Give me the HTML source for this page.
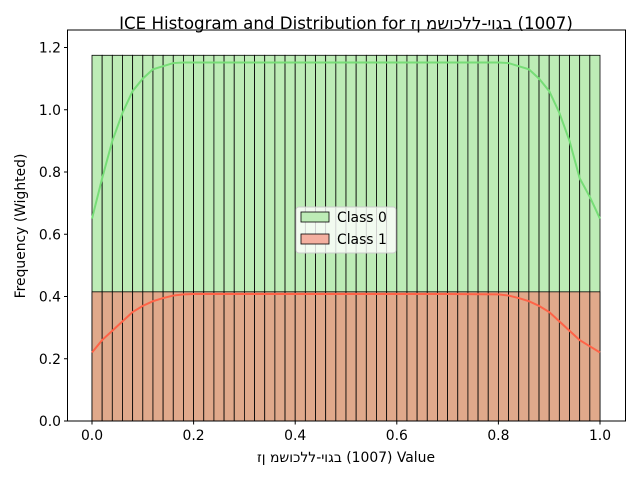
<!DOCTYPE html>
<html><head><meta charset="utf-8"><style>
body{margin:0;background:#fff;}
svg text{font-family:"DejaVu Sans","Liberation Sans",sans-serif;fill:#000;}
.ltr{direction:ltr;unicode-bidi:bidi-override;}
</style></head><body>
<svg id="chart" width="640" height="480" viewBox="0 0 640 480" xmlns="http://www.w3.org/2000/svg">
<rect width="640" height="480" fill="#fff"/>
<g id="bars"></g>
<g id="lines"></g>
<g id="axes"></g>
<text class="ltr" x="346" y="29" font-size="16.67" text-anchor="middle">ICE Histogram and Distribution for זן משוכלל-יוגב (1007)</text>
<text class="ltr" x="346" y="462" font-size="13.9" text-anchor="middle">זן משוכלל-יוגב (1007) Value</text>
<text transform="translate(25,226) rotate(-90)" font-size="13.9" text-anchor="middle">Frequency (Wighted)</text>
<g>
<rect x="296" y="207" width="100" height="46" rx="3" fill="#fff" fill-opacity="0.8" stroke="#ccc"/>
<rect x="301" y="212" width="28" height="10" fill="#bdecb6" stroke="#000" stroke-width="0.8"/>
<text x="337" y="222" font-size="13.9">Class 0</text>
<rect x="301" y="234" width="28" height="10" fill="#f4b0a0" stroke="#000" stroke-width="0.8"/>
<text x="337" y="244" font-size="13.9">Class 1</text>
</g>
</svg>
<script>
const binCount = 50;
const class0Heights = Array(50).fill(1.175);
const class1Heights = Array(50).fill(0.415);
const kdeX = [0,0.02,0.04,0.06,0.08,0.1,0.12,0.14,0.16,0.18,0.2,0.3,0.5,0.7,0.8,0.82,0.84,0.86,0.88,0.9,0.92,0.94,0.96,0.98,1.0];
const kde0 = [0.65,0.78,0.9,0.99,1.06,1.1,1.13,1.14,1.15,1.152,1.152,1.152,1.152,1.152,1.152,1.15,1.14,1.13,1.1,1.06,0.99,0.9,0.78,0.72,0.65];
const kde1 = [0.22,0.26,0.29,0.32,0.35,0.37,0.385,0.395,0.403,0.407,0.408,0.408,0.408,0.408,0.407,0.403,0.395,0.385,0.37,0.35,0.32,0.29,0.26,0.24,0.22];
const xTicks = [0,0.2,0.4,0.6,0.8,1.0];
const yTicks = [0,0.2,0.4,0.6,0.8,1.0,1.2];
const NS="http://www.w3.org/2000/svg";
const X = v => 92 + v*508;
const Y = v => 421 - v*(421-47.5)/1.2;
function mk(t,a,p){const e=document.createElementNS(NS,t);for(const k in a)e.setAttribute(k,a[k]);p.appendChild(e);return e;}
const bars=document.getElementById('bars');
const w=1/binCount;
for(let i=0;i<binCount;i++){
  const b=mk('rect',{x:X(i*w),y:Y(class0Heights[i]),width:X(w)-X(0),height:Y(0)-Y(class0Heights[i]),fill:'#bdecb6',stroke:'#000','stroke-width':0.8},bars);
  
  
}
for(let i=0;i<binCount;i++){
  const b=mk('rect',{x:X(i*w),y:Y(class1Heights[i]),width:X(w)-X(0),height:Y(0)-Y(class1Heights[i]),fill:'#e0a98b',stroke:'#000','stroke-width':0.8},bars);
  
  
}
const lines=document.getElementById('lines');
function path(ys){return kdeX.map((x,i)=>(i?'L':'M')+X(x)+','+Y(ys[i])).join(' ');}
const l0=mk('path',{d:path(kde0),fill:'none',stroke:'#77dd77','stroke-width':2},lines);


const l1=mk('path',{d:path(kde1),fill:'none',stroke:'#ff6347','stroke-width':2},lines);


const axes=document.getElementById('axes');
const frame=mk('rect',{x:67.5,y:30,width:558,height:391,fill:'none',stroke:'#000','stroke-width':1},axes);


xTicks.forEach(t=>{
  mk('line',{x1:X(t),x2:X(t),y1:421,y2:424.5,stroke:'#000'},axes);
  const tx=mk('text',{x:X(t),y:440,'font-size':13.9,'text-anchor':'middle'},axes);
  tx.textContent=t.toFixed(1);
  
  
});
yTicks.forEach(t=>{
  mk('line',{x1:64,x2:67.5,y1:Y(t),y2:Y(t),stroke:'#000'},axes);
  const tx=mk('text',{x:61,y:Y(t)+5,'font-size':13.9,'text-anchor':'end'},axes);
  tx.textContent=t.toFixed(1);
  
  
});
</script>
</body></html>
